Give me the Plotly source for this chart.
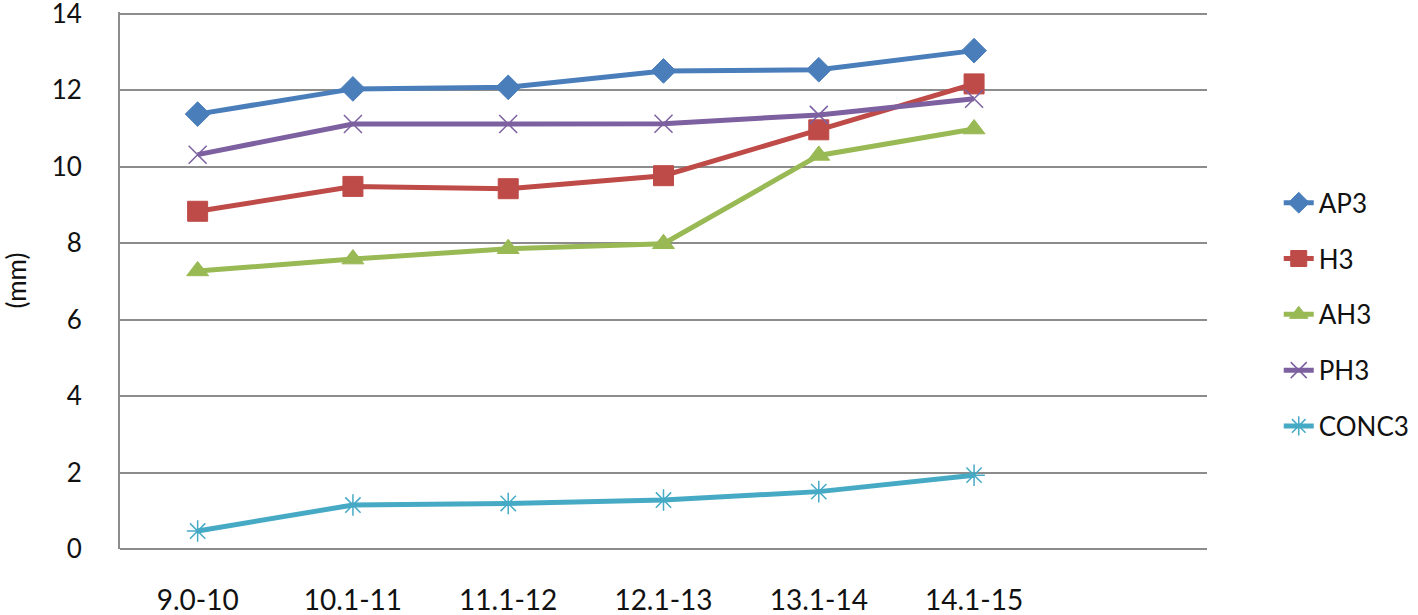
import plotly.graph_objects as go

categories = ["9.0-10", "10.1-11", "11.1-12", "12.1-13", "13.1-14", "14.1-15"]
ap3 = [11.37, 12.03, 12.07, 12.50, 12.53, 13.03]
h3 = [8.83, 9.48, 9.42, 9.76, 10.96, 12.16]
ah3 = [7.27, 7.58, 7.85, 7.98, 10.29, 10.98]
ph3 = [10.31, 11.11, 11.11, 11.12, 11.35, 11.77]
conc3 = [0.47, 1.15, 1.19, 1.28, 1.50, 1.93]
y_ticks = [0, 2, 4, 6, 8, 10, 12, 14]

series = [
    ("AP3", ap3, "#4A7EBB", "diamond", 19, None),
    ("H3", h3, "#BE4B48", "square", 20, None),
    ("AH3", ah3, "#98B954", "triangle-up", 19, None),
    ("PH3", ph3, "#7D60A0", "x-thin-open", 18, "#9a92a8"),
    ("CONC3", conc3, "#46AAC5", "asterisk-open", 18, "#5fb6cf"),
]

fig = go.Figure()
for i, (name, vals, color, sym, size, mcol) in enumerate(series):
    marker = dict(symbol=sym, size=size, color=color)
    if mcol:
        marker["line"] = dict(color=mcol, width=1.5)
    else:
        marker["line"] = dict(color=color, width=1)
    fig.add_trace(go.Scatter(
        x=categories, y=vals, name=name, mode="lines+markers",
        line=dict(color=color, width=5), marker=marker,
        legendgroup=name, cliponaxis=False,
    ))

font_family = "Lato, 'Open Sans', sans-serif"
fig.update_layout(
    width=1418, height=615,
    margin=dict(l=120, r=211, t=11.5, b=66, autoexpand=False),
    paper_bgcolor="white", plot_bgcolor="white",
    font=dict(family=font_family, size=26, color="#111111"),
    showlegend=True,
    legend=dict(
        x=1.066, y=0.437, xanchor="left", yanchor="middle",
        font=dict(size=26, family=font_family, color="#111111"),
        tracegroupgap=19, bgcolor="rgba(0,0,0,0)",
    ),
    xaxis=dict(
        type="category", range=[-0.5, 6.5], automargin=False,
        showgrid=False, showline=False, ticks="",
        tickfont=dict(size=28), ticklabelstandoff=32,
        ticklabeloverflow="allow",
    ),
    yaxis=dict(
        range=[0, 14.04], tickvals=y_ticks, showgrid=True, automargin=False,
        gridcolor="#8c8c8c", gridwidth=2,
        showline=True, linecolor="#8c8c8c", linewidth=2,
        zeroline=True, zerolinecolor="#8c8c8c", zerolinewidth=2,
        ticks="", tickfont=dict(size=26), ticklabelstandoff=31,
        ticklabeloverflow="allow",
        title=dict(text="(mm)", font=dict(size=26), standoff=30),
    ),
)

fig.write_html(
    "out.html",
    config={"displayModeBar": False},
    post_script="document.body.style.margin='0';document.body.style.overflow='hidden';",
)
